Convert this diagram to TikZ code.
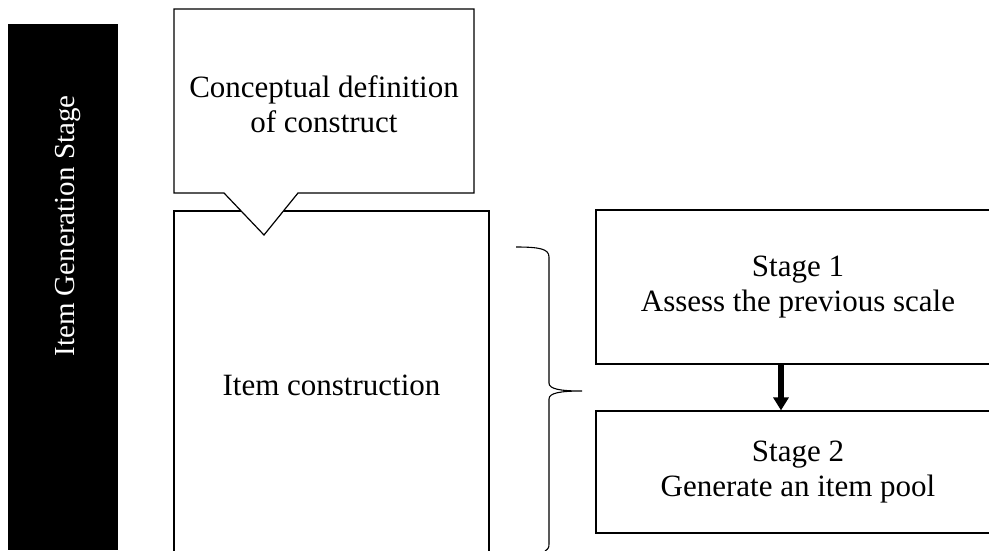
\documentclass[tikz,border=0pt]{standalone}
\usepackage{fontspec}
\setmainfont{Liberation Serif}
\usetikzlibrary{arrows.meta}
\begin{document}
\begin{tikzpicture}[x=1pt,y=-1pt,
  txt/.style={align=center, font=\fontsize{31}{35}\selectfont, inner sep=0pt},
  box/.style={txt, draw, line width=1.2pt},
  edge/.style={line width=1.2pt, line join=miter}]
\useasboundingbox (0,0) rectangle (989,550);
\begin{scope}
\clip (0,0) rectangle (989,550);
% side bar
\node[fill=black, minimum width=110pt, minimum height=526pt, inner sep=0pt] (bar) at (63,287) {};
\node[txt, text=white, rotate=90, font=\fontsize{29}{33}\selectfont] (bartext) at (68,226) {Item Generation Stage};
% item construction
\node[box, minimum width=315pt, minimum height=349pt] (item) at (331.5,385.5) {Item construction};
% callout
\draw[edge, fill=white] (174,9) -- (474,9) -- (474,193) -- (298,193) -- (264,235) -- (224,193) -- (174,193) -- cycle;
\node[txt] (concept) at (324,104) {Conceptual definition\\of construct};
% stages
\node[box, minimum width=404pt, minimum height=154pt] (s1) at (798,287) {Stage 1\\Assess the previous scale};
\node[box, minimum width=404pt, minimum height=122pt] (s2) at (798,472) {Stage 2\\Generate an item pool};
\coordinate (ax) at (781,0);
\draw[line width=5.5pt, -{Triangle[width=15pt,length=13pt]}] (s1.south -| ax) -- (s2.north -| ax);
% brace
\coordinate (tip) at (582,391);
\draw[line width=1.1pt] (516,247) .. controls (540,247) and (549,249) .. (549,257) -- (549,383)
  .. controls (549,389) and (560,391) .. (tip)
  .. controls (560,391) and (549,393) .. (549,399) -- (549,544)
  .. controls (549,548) and (548,549) .. (545,551);
\end{scope}
\end{tikzpicture}
\end{document}
